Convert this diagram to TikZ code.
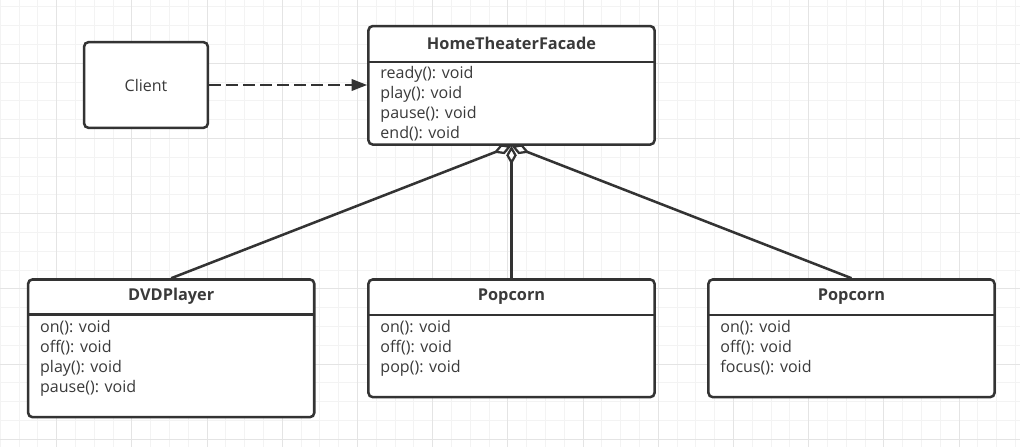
\documentclass[tikz,border=0pt]{standalone}
\usepackage{fontspec}
\setmainfont{Open Sans}
\usetikzlibrary{arrows.meta, positioning}

\definecolor{umlline}{HTML}{333333}
\definecolor{umltext}{HTML}{3A3A3A}
\definecolor{gridminor}{HTML}{F3F3F3}
\definecolor{gridmajor}{HTML}{E4E4E4}

\tikzset{
  umlbox/.style = {draw=umlline, line width=1.8pt, rounded corners=3pt,
    fill=white, inner sep=0pt, minimum width=7.15cm},
  umltitle/.style = {inner sep=0pt, minimum width=7.15cm, anchor=north,
    font=\fontsize{11.6}{13}\selectfont\bfseries},
  umlsep/.style = {draw=umlline, line width=1.8pt},
  member/.style = {inner sep=0pt, anchor=base west,
    font=\fontsize{11.4}{13}\selectfont},
  depends/.style = {draw=umlline, line width=1.8pt,
    dash pattern=on 8.2pt off 3.9pt, -{Triangle[length=11pt, width=8pt]}},
  aggregate/.style = {draw=umlline, line width=1.8pt,
    {Diamond[open, length=13.5pt, width=7.5pt, line width=1.6pt]}-}
}

\begin{document}
\begin{tikzpicture}[
    x=0.025cm, y=-0.025cm,
    every node/.append style = {text=umltext}
  ]
  \useasboundingbox (0,0) rectangle (1020,447);
  \fill[white] (0,0) rectangle (1020,447);

  % grid
  \foreach \gx in {0.3,19.1,...,1020}
    \draw[gridminor, line width=0.7pt] (\gx,0) -- (\gx,447);
  \foreach \gy in {6.9,25.7,...,447}
    \draw[gridminor, line width=0.7pt] (0,\gy) -- (1020,\gy);
  \foreach \gx in {56.7,131.9,...,1020}
    \draw[gridmajor, line width=0.7pt] (\gx,0) -- (\gx,447);
  \foreach \gy in {63.3,138.5,...,447}
    \draw[gridmajor, line width=0.7pt] (0,\gy) -- (1020,\gy);

  % client
  \node[umlbox, minimum width=3.09cm, minimum height=2.14cm,
    font=\fontsize{11.4}{13}\selectfont] (client) at (146,85) {Client};

  % facade
  \node[umlbox, minimum height=2.96cm] (facade) at (511.5,85.3) {};
  \node[umltitle, minimum height=0.9125cm] (facadetitle) at (facade.north)
    {HomeTheaterFacade};
  \draw[umlsep] (facadetitle.south west) -- (facadetitle.south east);
  \foreach \m [count=\i] in {ready(): void, play(): void, pause(): void, end(): void}
    \node[member] (facade-\i) at ([shift={(12,{16.8+20*(\i-1)})}]facadetitle.south west) {\m};

  % dvd player
  \node[umlbox, minimum height=3.44cm] (dvd) at (171.2,348.3) {};
  \node[umltitle, minimum height=0.8875cm] (dvdtitle) at (dvd.north) {DVDPlayer};
  \draw[umlsep] (dvdtitle.south west) -- (dvdtitle.south east);
  \foreach \m [count=\i] in {on(): void, off(): void, play(): void, pause(): void}
    \node[member] (dvd-\i) at ([shift={(12,{17.8+20*(\i-1)})}]dvdtitle.south west) {\m};

  % popcorn
  \node[umlbox, minimum height=2.94cm] (popcorn) at (511.5,338.3) {};
  \node[umltitle, minimum height=0.905cm] (popcorntitle) at (popcorn.north) {Popcorn};
  \draw[umlsep] (popcorntitle.south west) -- (popcorntitle.south east);
  \foreach \m [count=\i] in {on(): void, off(): void, pop(): void}
    \node[member] (popcorn-\i) at ([shift={(12,{17.8+20*(\i-1)})}]popcorntitle.south west) {\m};

  % second popcorn
  \node[umlbox, minimum height=2.94cm] (screen) at (851.5,338.3) {};
  \node[umltitle, minimum height=0.905cm] (screentitle) at (screen.north) {Popcorn};
  \draw[umlsep] (screentitle.south west) -- (screentitle.south east);
  \foreach \m [count=\i] in {on(): void, off(): void, focus(): void}
    \node[member] (screen-\i) at ([shift={(12,{17.8+20*(\i-1)})}]screentitle.south west) {\m};

  % connectors
  \draw[depends] (client.east) -- (client.east -| facade.west);
  \draw[aggregate] (facade.south) -- (dvd.north);
  \draw[aggregate] (facade.south) -- (popcorn.north);
  \draw[aggregate] (facade.south) -- (screen.north);
\end{tikzpicture}
\end{document}
